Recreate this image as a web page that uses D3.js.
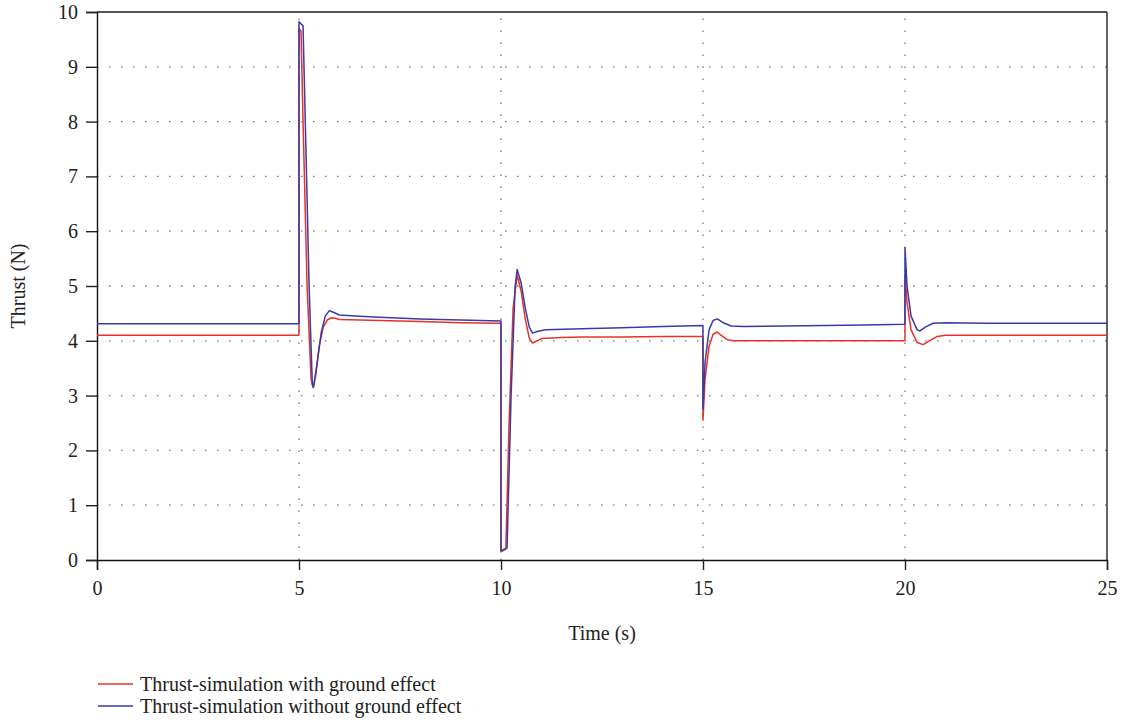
<!DOCTYPE html>
<html>
<head>
<meta charset="utf-8">
<script src="https://cdnjs.cloudflare.com/ajax/libs/d3/7.8.5/d3.min.js"></script>
<style>
    body { margin: 0; background: #fff; }
    text { font-family: "Liberation Serif", "DejaVu Serif", serif; fill: #222; }
</style>
</head>
<body>
<svg width="1129" height="723"></svg>
<script>
// values
var timeRed = [0, 4.999, 5.0, 5.05, 5.1, 5.2, 5.3, 5.35, 5.42, 5.5, 5.6, 5.7, 5.8, 5.9, 6.0, 6.5, 7, 8, 9, 9.999,
    10.0, 10.12, 10.2, 10.3, 10.4, 10.5, 10.6, 10.7, 10.78, 10.9, 11.0, 11.5, 12, 13, 14, 14.999,
    15.0, 15.05, 15.15, 15.25, 15.35, 15.45, 15.6, 15.75, 16, 17, 18, 19, 19.999,
    20.0, 20.05, 20.15, 20.3, 20.45, 20.6, 20.8, 21, 22, 25];
var thrustRed = [4.1, 4.1, 9.7, 9.65, 8.0, 5.0, 3.3, 3.15, 3.4, 3.9, 4.25, 4.38, 4.42, 4.41, 4.39, 4.38, 4.37, 4.35, 4.33, 4.32,
    0.15, 0.2, 2.5, 4.6, 5.2, 4.9, 4.4, 4.05, 3.96, 4.0, 4.04, 4.06, 4.07, 4.07, 4.08, 4.08,
    2.55, 3.3, 3.9, 4.12, 4.16, 4.1, 4.02, 4.0, 4.0, 4.0, 4.0, 4.0, 4.0,
    5.2, 4.7, 4.2, 3.97, 3.93, 4.0, 4.08, 4.1, 4.1, 4.1];

var timeBlue = [0, 4.999, 5.0, 5.1, 5.25, 5.33, 5.36, 5.45, 5.55, 5.65, 5.75, 5.85, 6.0, 6.5, 7, 8, 9, 9.999,
    10.0, 10.15, 10.25, 10.35, 10.4, 10.5, 10.6, 10.7, 10.78, 10.9, 11.1, 12, 13, 14, 14.999,
    15.0, 15.05, 15.15, 15.25, 15.35, 15.5, 15.7, 16, 17, 18, 19, 19.999,
    20.0, 20.05, 20.15, 20.3, 20.37, 20.5, 20.7, 21, 22, 25];
var thrustBlue = [4.31, 4.31, 9.82, 9.75, 5.0, 3.2, 3.15, 3.6, 4.15, 4.45, 4.55, 4.52, 4.47, 4.45, 4.43, 4.4, 4.38, 4.36,
    0.17, 0.22, 3.0, 5.0, 5.3, 5.05, 4.6, 4.25, 4.14, 4.17, 4.2, 4.22, 4.24, 4.26, 4.28,
    2.75, 3.6, 4.2, 4.37, 4.4, 4.33, 4.27, 4.26, 4.27, 4.28, 4.29, 4.3,
    5.7, 5.0, 4.45, 4.2, 4.18, 4.25, 4.32, 4.33, 4.32, 4.32];

var xTicks = [0, 5, 10, 15, 20, 25];
var yTicks = [0, 1, 2, 3, 4, 5, 6, 7, 8, 9, 10];
var seriesNames = ["Thrust-simulation with ground effect", "Thrust-simulation without ground effect"];
var seriesColors = ["#e8302a", "#3a3aa8"];

(function () {
    var svg = d3.select("svg");
    var mLeft = 97, mRight = 1107, mTop = 12, mBottom = 560;
    var fontSize = 20;

    var x = d3.scaleLinear().domain([0, 25]).range([mLeft, mRight]);
    var y = d3.scaleLinear().domain([0, 10]).range([mBottom, mTop]);

    // dotted grid
    svg.append("g").selectAll("line").data(yTicks.slice(1, -1)).enter().append("line")
        .attr("x1", mLeft).attr("x2", mRight)
        .attr("y1", function (d) { return y(d); }).attr("y2", function (d) { return y(d); })
        .attr("stroke", "#777").attr("stroke-width", 1.3)
        .attr("stroke-dasharray", "1.5,10.5");
    svg.append("g").selectAll("line").data(xTicks.slice(1, -1)).enter().append("line")
        .attr("y1", mBottom).attr("y2", mTop)
        .attr("x1", function (d) { return x(d); }).attr("x2", function (d) { return x(d); })
        .attr("stroke", "#777").attr("stroke-width", 1.3)
        .attr("stroke-dasharray", "1.5,10.5");

    // frame: top and right
    svg.append("line").attr("x1", mLeft).attr("x2", mRight).attr("y1", mTop).attr("y2", mTop)
        .attr("stroke", "#555").attr("stroke-width", 1.8);
    svg.append("line").attr("x1", mRight).attr("x2", mRight).attr("y1", mTop).attr("y2", mBottom)
        .attr("stroke", "#222").attr("stroke-width", 1.4);

    // axes
    var xAxis = svg.append("g").attr("transform", "translate(0," + mBottom + ")")
        .call(d3.axisBottom(x).tickValues(xTicks).tickSize(10).tickPadding(11).tickFormat(d3.format("d")));
    var yAxis = svg.append("g").attr("transform", "translate(" + mLeft + ",0)")
        .call(d3.axisLeft(y).tickValues(yTicks).tickSize(11).tickPadding(8).tickFormat(d3.format("d")));
    [xAxis, yAxis].forEach(function (ax) {
        ax.attr("font-size", fontSize).attr("font-family", "Liberation Serif, serif");
        ax.select(".domain").attr("stroke", "#111").attr("stroke-width", 1.4);
        ax.selectAll(".tick line").attr("stroke", "#222").attr("stroke-width", 1.4);
        ax.selectAll(".tick text").attr("fill", "#222");
    });

    // series
    var line = d3.line()
        .x(function (d) { return x(d[0]); })
        .y(function (d) { return y(d[1]); });
    var redData = d3.zip(timeRed, thrustRed);
    var blueData = d3.zip(timeBlue, thrustBlue);
    [redData, blueData].forEach(function (data, i) {
        svg.append("path").datum(data)
            .attr("d", line)
            .attr("fill", "none")
            .attr("stroke", seriesColors[i])
            .attr("stroke-width", 1.5)
            .attr("stroke-linejoin", "round");
    });

    // axis titles
    svg.append("text").attr("x", (mLeft + mRight) / 2).attr("y", 640)
        .attr("text-anchor", "middle").attr("font-size", fontSize).text("Time (s)");
    svg.append("text").attr("transform", "translate(25," + ((mTop + mBottom) / 2) + ") rotate(-90)")
        .attr("text-anchor", "middle").attr("font-size", fontSize).text("Thrust (N)");

    // legend
    var legend = svg.append("g").selectAll("g").data(seriesNames).enter().append("g")
        .attr("transform", function (d, i) { return "translate(98," + (684 + i * 22) + ")"; });
    legend.append("line").attr("x1", 0).attr("x2", 35).attr("y1", 0).attr("y2", 0)
        .attr("stroke", function (d, i) { return seriesColors[i]; }).attr("stroke-width", 1.3);
    legend.append("text").attr("x", 42).attr("y", 7).attr("font-size", fontSize)
        .text(function (d) { return d; });
})();
</script>
</body>
</html>
